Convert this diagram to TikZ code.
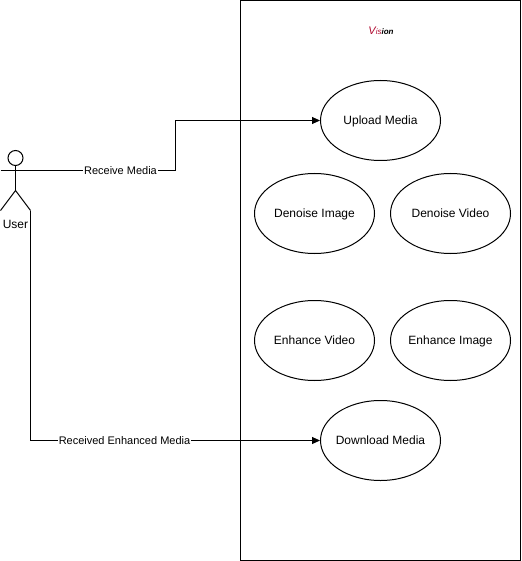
\documentclass[tikz,border=0pt]{standalone}
\usepackage{fontspec}
\setmainfont{Liberation Sans}
\usetikzlibrary{arrows.meta,shapes.geometric}
\definecolor{visred}{HTML}{B00A30}
\newcommand{\uctext}[1]{\makebox[0pt][c]{#1}}
\tikzset{
  usecase/.style={draw=black,line width=1pt,fill=white,ellipse,minimum width=120pt,minimum height=80pt,inner sep=0pt,text height=8.6pt,text depth=0pt,font=\fontsize{12}{14}\selectfont},
  conn/.style={draw=black,line width=1pt,-{Triangle[length=8pt,width=7pt]}},
  conlabel/.style={fill=white,inner xsep=1pt,inner ysep=1pt,font=\fontsize{11}{13}\selectfont},
  stick/.style={draw=black,line width=1pt},
}
\begin{document}
\begin{tikzpicture}[x=1pt,y=-1pt]
\useasboundingbox (0,0) rectangle (521,561);
\node[draw=black,line width=1pt,outer sep=0pt,minimum width=280pt,minimum height=560pt,inner sep=0pt,anchor=north west] (system) at (240.5,0.5) {};
\node[inner sep=0pt,font=\fontsize{8}{10}\itshape\selectfont] (title) at (381,31) {\textcolor{visred}{{\fontsize{11}{10}\selectfont V}is}{\bfseries ion}};
\node[usecase] (upload) at (380.5,120.5) {\uctext{Upload Media}};
\node[usecase] (dimage) at (314.5,213.5) {\uctext{Denoise Image}};
\node[usecase] (dvideo) at (450.5,213.5) {\uctext{Denoise Video}};
\node[usecase] (evideo) at (314.5,340.5) {\uctext{Enhance Video}};
\node[usecase] (eimage) at (450.5,340.5) {\uctext{Enhance Image}};
\node[usecase] (download) at (380.5,440.5) {\uctext{Download Media}};
% actor
\node[draw=black,line width=1pt,circle,minimum size=15pt,inner sep=0pt] (head) at (15.5,158) {};
\coordinate (hip) at (15.5,190.5);
\coordinate (armL) at (0.5,170.5);
\coordinate (armR) at (30.5,170.5);
\coordinate (footL) at (0.5,210.5);
\coordinate (footR) at (30.5,210.5);
\draw[stick] (head.south) -- (hip);
\draw[stick] (armL) -- (armR);
\draw[stick] (footL) -- (hip) -- (footR);
\node[inner sep=0pt,font=\fontsize{12}{14}\selectfont] (user) at (15.5,224) {User};
% connectors
\draw[conn] (armR) -| (175.5,120.5) -- (upload.west);
\draw[conn] (footR) |- (download.west);
\node[conlabel] (l1) at (120.5,170.5) {Receive Media};
\node[conlabel] (l2) at (124.5,440.5) {Received Enhanced Media};
\end{tikzpicture}
\end{document}
